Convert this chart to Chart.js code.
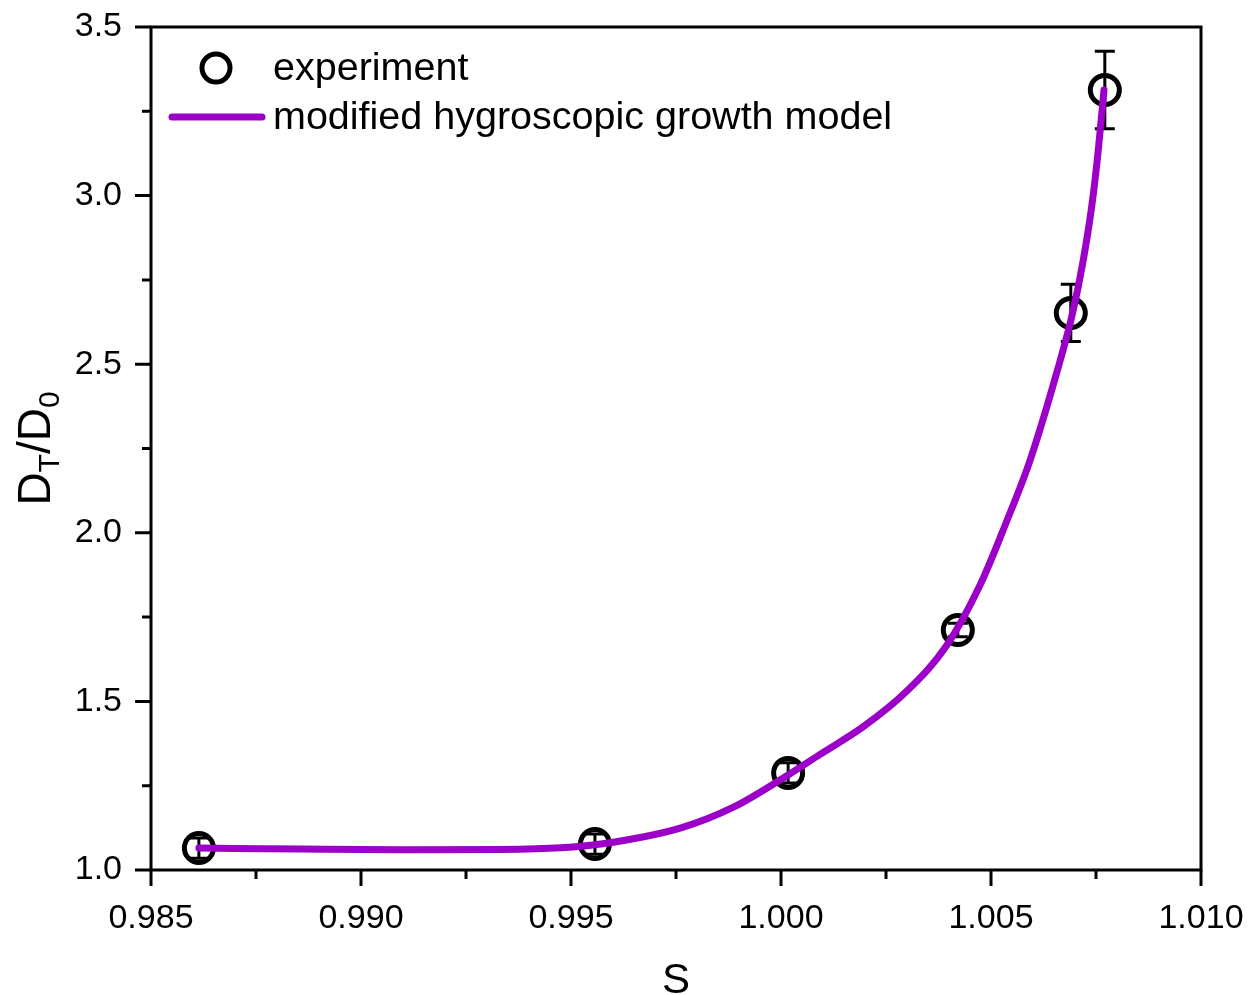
<!DOCTYPE html>
<html>
<head>
    <title>Hygroscopic growth</title>
    <script src="https://cdn.jsdelivr.net/npm/chart.js"></script>
    <style>
        body { margin: 0; background: #fff; }
    </style>
</head>
<body>
    <canvas id="growthChart" width="1250" height="995"></canvas>

    <script>
        // measured points
        const sExp = [0.98614, 0.99557, 1.00017, 1.00421, 1.00690, 1.00771];
        const dExp = [1.065, 1.077, 1.288, 1.712, 2.652, 3.313];
        const dErr = [0.03, 0.03, 0.03, 0.02, 0.085, 0.115];

        // model curve
        const sModel = [0.98614, 0.98857, 0.99095, 0.99333, 0.99476, 0.99571, 0.99762, 0.99888,
                        1.00017, 1.00093, 1.00196, 1.00299, 1.00394, 1.00474, 1.00536, 1.00593,
                        1.00660, 1.00693, 1.00717, 1.00740, 1.00755, 1.00769];
        const dModel = [1.065, 1.062, 1.060, 1.061, 1.066, 1.077, 1.125, 1.187,
                        1.282, 1.343, 1.425, 1.530, 1.665, 1.845, 2.030, 2.215,
                        2.490, 2.645, 2.790, 2.970, 3.130, 3.313];

        const xTicks = [0.985, 0.990, 0.995, 1.000, 1.005, 1.010];
        const xMinor = [0.9875, 0.9925, 0.9975, 1.0025, 1.0075];
        const yTicks = [1.0, 1.5, 2.0, 2.5, 3.0, 3.5];
        const yMinor = [1.25, 1.75, 2.25, 2.75, 3.25];

        const FONT = "'Liberation Sans', Arial, sans-serif";
        const PURPLE = '#9c00c8';

        Chart.defaults.font.family = FONT;

        function noPad(axis) {
            axis.paddingLeft = 0; axis.paddingRight = 0;
            axis.paddingTop = 0; axis.paddingBottom = 0;
        }

        const decorations = {
            id: 'decorations',
            beforeDatasetsDraw(chart) {
                const c = chart.ctx, x = chart.scales.x, y = chart.scales.y;
                c.save();
                c.strokeStyle = '#000';
                c.lineWidth = 3;
                sExp.forEach((s, i) => {
                    const px = x.getPixelForValue(s);
                    const top = y.getPixelForValue(dExp[i] + dErr[i]);
                    const bot = y.getPixelForValue(dExp[i] - dErr[i]);
                    c.beginPath();
                    c.moveTo(px, top); c.lineTo(px, bot);
                    c.moveTo(px - 10, top); c.lineTo(px + 10, top);
                    c.moveTo(px - 10, bot); c.lineTo(px + 10, bot);
                    c.stroke();
                });
                c.restore();
            },
            afterDraw(chart) {
                const c = chart.ctx, a = chart.chartArea;
                const x = chart.scales.x, y = chart.scales.y;
                c.save();
                c.strokeStyle = '#000';
                c.lineWidth = 3;
                c.strokeRect(a.left, a.top, a.right - a.left, a.bottom - a.top);

                // outward ticks
                c.beginPath();
                xTicks.forEach(v => { const p = x.getPixelForValue(v); c.moveTo(p, a.bottom); c.lineTo(p, a.bottom + 16); });
                xMinor.forEach(v => { const p = x.getPixelForValue(v); c.moveTo(p, a.bottom); c.lineTo(p, a.bottom + 9); });
                yTicks.forEach(v => { const p = y.getPixelForValue(v); c.moveTo(a.left, p); c.lineTo(a.left - 16, p); });
                yMinor.forEach(v => { const p = y.getPixelForValue(v); c.moveTo(a.left, p); c.lineTo(a.left - 9, p); });
                c.stroke();

                // axis titles
                c.fillStyle = '#000';
                c.textBaseline = 'alphabetic';
                c.textAlign = 'center';
                c.font = '42px ' + FONT;
                c.fillText('S', (a.left + a.right) / 2, 993);

                c.save();
                c.translate(50, (a.top + a.bottom) / 2);
                c.rotate(-Math.PI / 2);
                const big = '46px ' + FONT, small = '30px ' + FONT;
                const parts = [['D', big, 0], ['T', small, 9], ['/D', big, 0], ['0', small, 9]];
                let w = 0;
                parts.forEach(p => { c.font = p[1]; w += c.measureText(p[0]).width; });
                let cx = -w / 2;
                c.textAlign = 'left';
                parts.forEach(p => { c.font = p[1]; c.fillText(p[0], cx, p[2]); cx += c.measureText(p[0]).width; });
                c.restore();

                // legend
                c.lineWidth = 5;
                c.beginPath();
                c.arc(216, 68, 14, 0, Math.PI * 2);
                c.stroke();
                c.strokeStyle = PURPLE;
                c.lineWidth = 7;
                c.lineCap = 'round';
                c.beginPath();
                c.moveTo(172, 117); c.lineTo(262, 117);
                c.stroke();
                c.font = '39.5px ' + FONT;
                c.textAlign = 'left';
                c.textBaseline = 'middle';
                c.fillText('experiment', 273, 69);
                c.fillText('modified hygroscopic growth model', 273, 118);
                c.restore();
            }
        };

        const ctx = document.getElementById('growthChart').getContext('2d');
        const growthChart = new Chart(ctx, {
            type: 'scatter',
            data: {
                datasets: [{
                    label: 'modified hygroscopic growth model',
                    data: sModel.map((s, i) => ({ x: s, y: dModel[i] })),
                    showLine: true,
                    borderColor: PURPLE,
                    borderWidth: 7,
                    borderCapStyle: 'round',
                    cubicInterpolationMode: 'monotone',
                    pointRadius: 0,
                    order: 0
                }, {
                    label: 'experiment',
                    data: sExp.map((s, i) => ({ x: s, y: dExp[i] })),
                    pointRadius: 14.5,
                    pointBorderWidth: 5,
                    pointBorderColor: '#000',
                    pointBackgroundColor: 'rgba(0,0,0,0)',
                    order: 1
                }]
            },
            options: {
                responsive: false,
                animation: false,
                layout: { padding: { top: 27, right: 49, left: 0, bottom: 0 } },
                plugins: { legend: { display: false }, tooltip: { enabled: false } },
                scales: {
                    x: {
                        type: 'linear',
                        min: 0.985, max: 1.010,
                        grid: { display: false, drawTicks: false },
                        border: { display: false },
                        afterBuildTicks: axis => { axis.ticks = xTicks.map(v => ({ value: v })); },
                        afterFit: axis => { axis.height = 125; noPad(axis); },
                        ticks: {
                            color: '#000',
                            font: { size: 34 },
                            padding: 28,
                            maxRotation: 0,
                            callback: v => v.toFixed(3)
                        }
                    },
                    y: {
                        min: 1.0, max: 3.5,
                        grid: { display: false, drawTicks: false },
                        border: { display: false },
                        afterBuildTicks: axis => { axis.ticks = yTicks.map(v => ({ value: v })); },
                        afterFit: axis => { axis.width = 151; noPad(axis); },
                        ticks: {
                            color: '#000',
                            font: { size: 34 },
                            padding: 29,
                            callback: v => v.toFixed(1)
                        }
                    }
                }
            },
            plugins: [decorations]
        });
    </script>
</body>
</html>
